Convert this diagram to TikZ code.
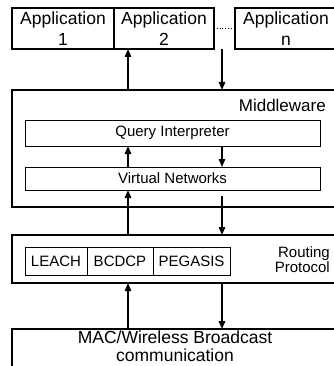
\documentclass[tikz,border=0pt]{standalone}
\usepackage{fontspec}
\setmainfont{Liberation Sans}
\usetikzlibrary{arrows.meta}
\begin{document}
\begin{tikzpicture}[x=1pt,y=-1pt,
  box/.style={draw, line width=1.1pt, inner sep=0pt, outer sep=0pt, align=center},
  thinbox/.style={draw, line width=0.8pt, inner sep=0pt, outer sep=0pt, align=center},
  arr/.style={line width=1.4pt, -{Triangle[length=8pt,width=6.5pt]}},
  big/.style={font=\fontsize{17.5}{21}\selectfont},
  mid/.style={font=\fontsize{15}{18}\selectfont},
  sm/.style={font=\fontsize{15}{15.5}\selectfont}]
\useasboundingbox (0,0) rectangle (333,366);
% applications
\node[box, big, minimum width=102pt, minimum height=41pt] (app1) at (63,28.5) {Application\\1};
\node[box, big, minimum width=100pt, minimum height=41pt] (app2) at (164,28.5) {Application\\2};
\node[box, big, minimum width=102pt, minimum height=41pt] (appn) at (286,28.5) {Application\\n};
\draw[line width=0.8pt, dotted] (app2.east) -- (appn.west);
% middleware
\node[box, minimum width=325pt, minimum height=117pt] (mw) at (174.5,148.5) {};
\node[font=\fontsize{17}{20}\selectfont, anchor=east, inner sep=0pt] (mwlab) at (326,105) {Middleware};
\node[thinbox, mid, minimum width=295pt, minimum height=26pt] (qi) at (172.5,133) {Query Interpreter};
\node[thinbox, mid, minimum width=295pt, minimum height=23pt] (vn) at (172.5,178.5) {Virtual Networks};
% routing
\node[box, minimum width=325pt, minimum height=48pt] (rt) at (174.5,259) {};
\node[thinbox, sm, minimum width=62pt, minimum height=28pt] (leach) at (56,261) {LEACH};
\node[thinbox, sm, minimum width=66pt, minimum height=28pt] (bcdcp) at (120,261) {BCDCP};
\node[thinbox, sm, minimum width=77pt, minimum height=28pt] (peg) at (191.5,261) {PEGASIS};
\node[sm, align=right, anchor=east, inner sep=0pt] (rplab) at (330,259.5) {Routing\\Protocol};
% MAC
\node[box, minimum width=325pt, minimum height=60pt, anchor=north] (mac) at (174.5,329) {};
\node[font=\fontsize{17.5}{18.5}\selectfont, align=center, inner sep=0pt, anchor=base] (maclab) at (175,361.5) {MAC/Wireless Broadcast\\communication};
% arrow columns
\coordinate (cl) at (128,0);
\coordinate (cr) at (222,0);
\coordinate (d1) at (222,49);
\coordinate (d2) at (222,196);
% arrows
\draw[arr] (mw.north -| cl) -- (app2.south -| cl);
\draw[arr] (d1) -- (mw.north -| cr);
\draw[arr] (vn.north -| cl) -- (qi.south -| cl);
\draw[arr] (qi.south -| cr) -- (vn.north -| cr);
\draw[arr] (rt.north -| cl) -- (vn.south -| cl);
\draw[arr] (d2) -- (rt.north -| cr);
\draw[arr] (mac.north -| cl) -- (rt.south -| cl);
\draw[arr, line width=1.9pt] (rt.south -| cr) -- (mac.north -| cr);
\end{tikzpicture}
\end{document}
